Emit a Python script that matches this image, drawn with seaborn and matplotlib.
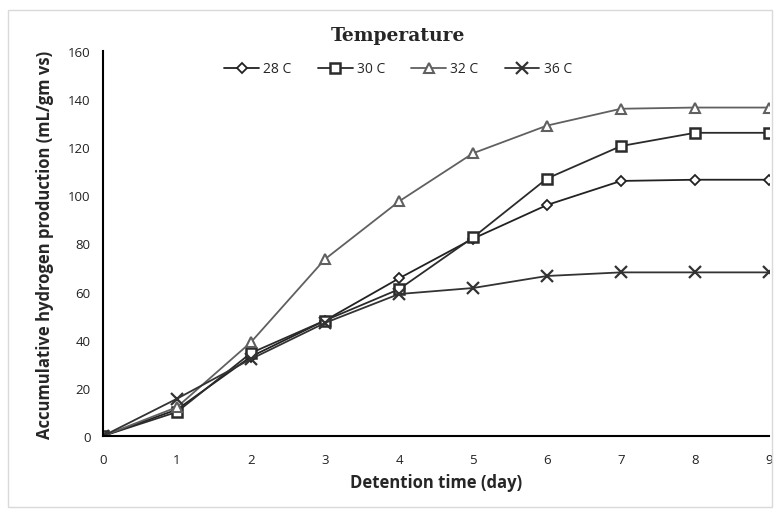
import numpy as np
import pandas as pd
import seaborn as sns
import matplotlib.pyplot as plt
from matplotlib.patches import Rectangle

days = [0, 1, 2, 3, 4, 5, 6, 7, 8, 9]
temp_28 = [0, 11, 33, 48, 65.5, 82, 96, 106, 106.5, 106.5]
temp_30 = [0, 10, 34.5, 48, 61, 82.5, 107, 120.5, 126, 126]
temp_32 = [0, 12, 39, 73.5, 97.5, 117.5, 129, 136, 136.5, 136.5]
temp_36 = [0, 15.5, 32, 47, 59, 61.5, 66.5, 68, 68, 68]
labels = ["28 C", "30 C", "32 C", "36 C"]

sns.set_style("white")
plt.rcParams['font.family'] = ['Open Sans', 'DejaVu Sans']

df = pd.DataFrame({"day": days, "28 C": temp_28, "30 C": temp_30,
                   "32 C": temp_32, "36 C": temp_36})
long = df.melt(id_vars="day", var_name="temp", value_name="h2")

fig = plt.figure(figsize=(7.74, 5.10), dpi=100)
ax = fig.add_axes([103 / 774, 1 - 437 / 510, 666 / 774, 385 / 510])

styles = {
    "28 C": dict(marker="D", color="#222222", ms=5, mew=1.3),
    "30 C": dict(marker="s", color="#2b2b2b", ms=7, mew=1.8),
    "32 C": dict(marker="^", color="#606060", ms=7.5, mew=1.5),
    "36 C": dict(marker="x", color="#333333", ms=8, mew=1.6),
}

for lab in labels:
    st = styles[lab]
    sub = long[long["temp"] == lab]
    sns.lineplot(data=sub, x="day", y="h2", ax=ax, color=st["color"],
                 linewidth=1.3, marker=st["marker"], markersize=st["ms"],
                 markerfacecolor="white", markeredgecolor=st["color"],
                 markeredgewidth=st["mew"], label=lab)

ax.set_xlim(0, 9)
ax.set_ylim(0, 160)
ax.set_xticks(days)
ax.set_yticks(range(0, 161, 20))
ax.tick_params(axis="both", length=0, labelsize=9.5, colors="#222222")
ax.tick_params(axis="x", pad=12)
ax.tick_params(axis="y", pad=9)
for s in ["top", "right"]:
    ax.spines[s].set_visible(False)
for s in ["left", "bottom"]:
    ax.spines[s].set_color("black")
    ax.spines[s].set_linewidth(1.5)

ax.set_xlabel("Detention time (day)", fontsize=12, fontweight="bold", labelpad=5)
ax.set_ylabel("Accumulative hydrogen production (mL/gm vs)", fontsize=12,
              fontweight="bold", labelpad=10)

fig.text(398 / 774, 1 - 36 / 510, "Temperature", ha="center", va="center",
         fontsize=13.5, fontweight="bold", family=["DejaVu Serif"])

ax.legend(loc="center", bbox_to_anchor=(398 / 774, 1 - 70 / 510),
          bbox_transform=fig.transFigure, ncol=4,
          frameon=False, fontsize=10, handlelength=2.5, columnspacing=1.9,
          handletextpad=0.3, borderaxespad=0)

fig.patches.append(Rectangle((8 / 774, 2 / 510), 764 / 774, 497 / 510,
                             transform=fig.transFigure, fill=False,
                             edgecolor="#d9d9d9", linewidth=1))

fig.savefig("out.png", dpi=100)
